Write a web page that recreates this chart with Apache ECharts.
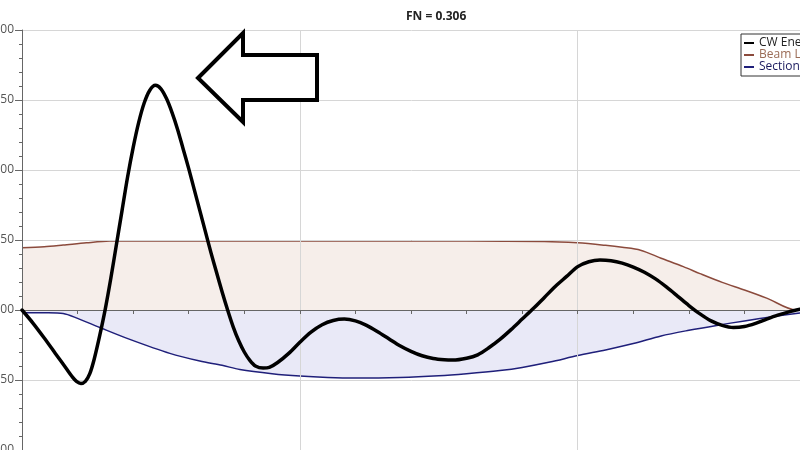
<!DOCTYPE html>
<html>
<head>
<meta charset="utf-8">
<script src="https://cdn.jsdelivr.net/npm/echarts@6/dist/echarts.min.js"></script>
<style>html,body{margin:0;padding:0;background:#fff;}#c{width:800px;height:450px;}</style>
</head>
<body>
<div id="c"></div>
<script>
const titleText = 'FN = 0.306';
const seriesNames = ['CW Energy', 'Beam Limit', 'Section Limit'];
const yTicks = { min: -0.1, max: 0.2, step: 0.05 };
const xTicks = { min: 0, max: 150, step: 50 };

const cwEnergy = [[0,0],[2,-0.0095],[4,-0.020],[6,-0.031],[8,-0.042],[9,-0.0475],[9.8,-0.051],[10.6,-0.0525],[11.4,-0.051],[12.2,-0.0455],[13,-0.035],[14,-0.018],[15,0.001],[16,0.023],[17,0.047],[18,0.071],[19,0.095],[20,0.116],[21,0.134],[22,0.148],[23,0.157],[24,0.1605],[25,0.158],[26,0.151],[27,0.141],[28,0.129],[29,0.115],[30,0.101],[31,0.086],[32,0.071],[33,0.056],[34,0.041],[35,0.027],[36,0.013],[37,0.000],[38,-0.012],[39,-0.022],[40,-0.030],[41,-0.036],[42,-0.040],[43.4,-0.0415],[44.5,-0.041],[46,-0.0375],[48,-0.031],[50,-0.023],[52,-0.0158],[54,-0.0105],[56,-0.0075],[58,-0.0065],[60,-0.0078],[62,-0.011],[64,-0.0155],[66,-0.0205],[68,-0.0255],[70,-0.0295],[72,-0.0327],[74,-0.0347],[76,-0.0356],[77.5,-0.0358],[80,-0.0345],[82,-0.032],[84,-0.027],[86,-0.021],[88,-0.014],[90,-0.0065],[92,0.001],[94,0.009],[96,0.017],[98,0.024],[100,0.031],[102,0.0345],[104,0.0357],[106,0.0352],[108,0.0335],[110,0.0307],[112,0.027],[114,0.0222],[116,0.0163],[118,0.0098],[120,0.0032],[122,-0.0028],[124,-0.0078],[126,-0.011],[128,-0.0125],[130,-0.0118],[132,-0.0095],[134,-0.0065],[136,-0.0037],[138,-0.0013],[140,0.0005]];

const beamLimit = [[0,0.0445],[4,0.0452],[7.4,0.0464],[11.6,0.048],[15.8,0.0492],[20,0.0493],[40,0.0493],[60,0.0493],[80,0.0492],[94,0.049],[100,0.048],[105,0.0462],[108,0.0448],[111.3,0.0427],[115,0.037],[119,0.031],[122,0.026],[126,0.0197],[130,0.0143],[134,0.0085],[139.3,0],[140,0]];

const sectionLimit = [[0,-0.0019],[4,-0.002],[7.4,-0.0025],[10,-0.006],[14,-0.0125],[19.4,-0.021],[26.6,-0.031],[32,-0.0365],[36,-0.0395],[39.2,-0.0425],[45,-0.0455],[50,-0.0472],[55,-0.0482],[60,-0.0486],[68,-0.0482],[75,-0.047],[80,-0.0455],[86,-0.0432],[90,-0.041],[95,-0.0372],[100,-0.0325],[105,-0.0285],[110,-0.024],[115,-0.0185],[120,-0.0145],[125,-0.011],[130,-0.0078],[135,-0.0048],[140,-0.0022]];

const chart = echarts.init(document.getElementById('c'), null, {renderer: 'canvas'});
const font = '"Open Sans", "Noto Sans", sans-serif';
chart.setOption({
  backgroundColor: '#fff',
  animation: false,
  title: {
    text: titleText, left: 401, top: 6,
    textStyle: {fontSize: 12, fontWeight: 'bold', color: '#222', fontFamily: font}
  },
  legend: {
    orient: 'vertical', left: 741, top: 34, itemGap: 0, padding: [3, 6, 3, 3],
    itemWidth: 10, itemHeight: 2, icon: 'rect',
    borderColor: '#333', borderWidth: 1, backgroundColor: '#fff',
    textStyle: {fontSize: 12, fontFamily: font, lineHeight: 11},
    data: [
      {name: seriesNames[0], textStyle: {color: '#222'}},
      {name: seriesNames[1], textStyle: {color: '#9a6b55'}},
      {name: seriesNames[2], textStyle: {color: '#1a1a5e'}}
    ]
  },
  grid: {left: 22, top: 30, bottom: 0, right: -55.6, containLabel: false, outerBoundsMode: 'none'},
  xAxis: {
    type: 'value', min: xTicks.min, max: xTicks.max, interval: xTicks.step, z: 3,
    axisLine: {onZero: true, lineStyle: {color: '#666', width: 1}},
    axisTick: {show: true, length: 4, lineStyle: {color: '#666'}},
    minorTick: {show: true, splitNumber: 5, length: 4, lineStyle: {color: '#666'}},
    splitLine: {show: true, lineStyle: {color: '#d6d6d6', width: 1}},
    axisLabel: {color: '#555', fontSize: 12, margin: 6, fontFamily: font, showMaxLabel: false}
  },
  yAxis: {
    type: 'value', min: yTicks.min, max: yTicks.max, interval: yTicks.step, z: 3,
    axisLine: {show: true, onZero: false, lineStyle: {color: '#666', width: 1}},
    axisTick: {show: true, length: 7, lineStyle: {color: '#666'}},
    minorTick: {show: true, splitNumber: 5, length: 3, lineStyle: {color: '#666'}},
    splitLine: {show: true, lineStyle: {color: '#d6d6d6', width: 1}},
    axisLabel: {color: '#555', fontSize: 12, margin: 8, fontFamily: font,
      formatter: v => v.toFixed(3)}
  },
  graphic: [{
    type: 'polygon', z: 100,
    shape: {points: [[198,78],[243,33],[243,55],[317,55],[317,100],[243,100],[243,122]]},
    style: {fill: '#fff', stroke: '#000', lineWidth: 4, lineJoin: 'miter'}
  }],
  series: [
    {
      name: seriesNames[1], type: 'line', data: beamLimit, smooth: 0.3, showSymbol: false, z: 2,
      lineStyle: {color: '#8b4a3c', width: 1.5}, itemStyle: {color: '#8b4a3c'},
      areaStyle: {color: 'rgba(170,90,60,0.15)'}
    },
    {
      name: seriesNames[2], type: 'line', data: sectionLimit, smooth: 0.3, showSymbol: false, z: 2,
      lineStyle: {color: '#1f1f7a', width: 1.5}, itemStyle: {color: '#1f1f7a'},
      areaStyle: {color: 'rgba(70,70,190,0.17)'}
    },
    {
      name: seriesNames[0], type: 'line', data: cwEnergy, smooth: 0.3, showSymbol: false, z: 4,
      lineStyle: {color: '#000', width: 3.5, join: 'round', cap: 'round'}, itemStyle: {color: '#000'}
    }
  ]
});
</script>
</body>
</html>
